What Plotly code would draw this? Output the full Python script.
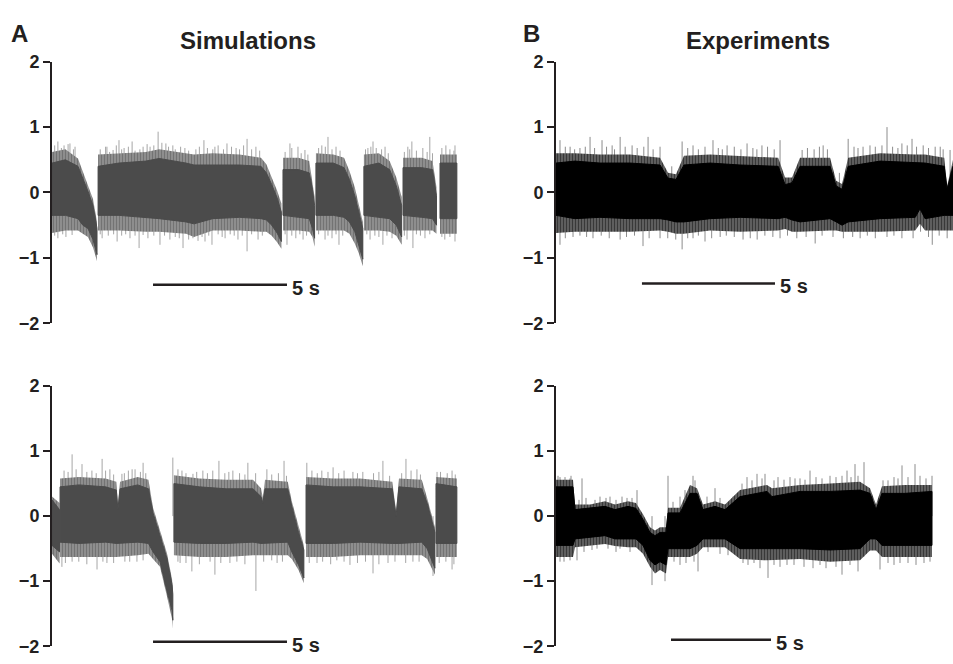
import plotly.graph_objects as go

# ---------------- data (time in s, value in arbitrary units) ----------------
# envelope rows: (t, core_hi, core_lo, fringe_hi, fringe_lo); None = break between segments
SIM_TOP_ENV = [
    (0.00, 0.45, -0.35, 0.62, -0.62), (0.50, 0.50, -0.35, 0.66, -0.58), (0.97, 0.40, -0.40, 0.52, -0.58),
    (1.15, 0.22, -0.50, 0.33, -0.63), (1.34, 0.02, -0.55, 0.13, -0.68), (1.53, -0.20, -0.72, -0.10, -0.84),
    (1.68, -0.55, -0.95, -0.45, -1.05), None,
    (1.72, 0.40, -0.35, 0.58, -0.58), (2.50, 0.45, -0.35, 0.60, -0.58), (3.50, 0.48, -0.38, 0.62, -0.60),
    (4.00, 0.52, -0.40, 0.66, -0.60), (5.00, 0.45, -0.45, 0.60, -0.63), (5.30, 0.42, -0.48, 0.58, -0.68),
    (6.00, 0.42, -0.40, 0.60, -0.58), (7.00, 0.42, -0.38, 0.58, -0.58), (7.80, 0.40, -0.40, 0.53, -0.60),
    (8.00, 0.30, -0.42, 0.43, -0.60), (8.20, 0.12, -0.50, 0.23, -0.66), (8.40, -0.08, -0.62, 0.03, -0.76),
    (8.56, -0.30, -0.75, -0.17, -0.86), None,
    (8.62, 0.35, -0.35, 0.53, -0.58), (9.20, 0.35, -0.38, 0.53, -0.58), (9.60, 0.30, -0.40, 0.48, -0.60),
    (9.72, 0.05, -0.55, 0.18, -0.68), (9.80, -0.20, -0.70, -0.07, -0.83), None,
    (9.85, 0.45, -0.35, 0.60, -0.58), (10.50, 0.45, -0.35, 0.58, -0.58), (10.90, 0.38, -0.38, 0.53, -0.58),
    (11.10, 0.20, -0.45, 0.33, -0.63), (11.30, -0.05, -0.60, 0.08, -0.78), (11.45, -0.30, -0.82, -0.17, -0.93),
    (11.60, -0.55, -1.02, -0.45, -1.13), None,
    (11.64, 0.40, -0.35, 0.58, -0.58), (12.20, 0.45, -0.38, 0.60, -0.58), (12.60, 0.35, -0.40, 0.48, -0.60),
    (12.85, 0.10, -0.50, 0.23, -0.66), (13.05, -0.20, -0.68, -0.07, -0.80), None,
    (13.10, 0.38, -0.35, 0.53, -0.58), (13.80, 0.38, -0.38, 0.53, -0.58), (14.20, 0.35, -0.40, 0.48, -0.58),
    (14.35, -0.05, -0.50, 0.08, -0.63), None,
    (14.48, 0.45, -0.40, 0.58, -0.63), (15.11, 0.45, -0.40, 0.58, -0.63),
]
SIM_TOP_UP = [(0.10, 0.72), (0.22, 0.78), (0.35, 0.68), (0.45, 0.72), (0.60, 0.74), (0.67, 0.75), (0.80, 0.66),
              (0.86, 0.70), (1.80, 0.66), (2.00, 0.70), (2.05, 0.70), (2.15, 0.62), (2.28, 0.65), (2.40, 0.72),
              (2.50, 0.80), (2.60, 0.66), (2.69, 0.68), (2.85, 0.70), (2.99, 0.78), (3.10, 0.64), (3.28, 0.66),
              (3.40, 0.70), (3.55, 0.74), (3.66, 0.70), (3.80, 0.72), (3.96, 0.93), (4.10, 0.76), (4.25, 0.75),
              (4.35, 0.70), (4.51, 0.72), (4.60, 0.66), (4.80, 0.70), (4.96, 0.68), (5.10, 0.64), (5.37, 0.66),
              (5.50, 0.70), (5.67, 0.80), (5.80, 0.68), (6.00, 0.66), (6.08, 0.70), (6.20, 0.72), (6.40, 0.66),
              (6.53, 0.75), (6.70, 0.70), (6.87, 0.68), (7.00, 0.66), (7.15, 0.72), (7.28, 0.82), (7.45, 0.66),
              (7.61, 0.70), (7.75, 0.64), (8.70, 0.62), (8.88, 0.75), (8.95, 0.68), (9.18, 0.70), (9.30, 0.60),
              (9.44, 0.65), (9.55, 0.58), (9.95, 0.68), (10.07, 0.72), (10.20, 0.70), (10.30, 0.85),
              (10.45, 0.66), (10.60, 0.70), (10.75, 0.64), (11.70, 0.66), (11.79, 0.68), (11.90, 0.70),
              (11.98, 0.78), (12.10, 0.68), (12.30, 0.66), (12.43, 0.70), (12.55, 0.60), (13.15, 0.62),
              (13.28, 0.70), (13.35, 0.66), (13.43, 0.78), (13.60, 0.64), (13.84, 0.68), (14.00, 0.62),
              (14.10, 0.85), (14.20, 0.60), (14.55, 0.68), (14.70, 0.72), (14.85, 0.66), (15.00, 0.64),
              (15.04, 0.72)]
SIM_TOP_DOWN = [(0.10, -0.66), (0.22, -0.70), (0.40, -0.64), (0.52, -0.68), (0.75, -0.65), (1.80, -0.64),
                (1.87, -0.70), (2.10, -0.66), (2.30, -0.64), (2.43, -0.75), (2.60, -0.66), (2.75, -0.64),
                (2.91, -0.70), (3.10, -0.66), (3.25, -0.85), (3.40, -0.65), (3.58, -0.70), (3.80, -0.66),
                (4.03, -0.80), (4.20, -0.66), (4.40, -0.72), (4.60, -0.68), (4.75, -0.70), (4.89, -0.85),
                (5.10, -0.72), (5.26, -0.70), (5.45, -0.74), (5.60, -0.68), (5.71, -0.75), (5.85, -0.66),
                (5.97, -0.80), (6.20, -0.64), (6.35, -0.68), (6.46, -0.70), (6.65, -0.64), (6.80, -0.66),
                (6.94, -0.72), (7.10, -0.66), (7.28, -0.90), (7.45, -0.64), (7.69, -0.72), (7.85, -0.66),
                (8.70, -0.64), (8.77, -0.80), (8.95, -0.66), (9.10, -0.70), (9.25, -0.64), (9.37, -0.72),
                (9.50, -0.66), (9.95, -0.64), (10.19, -0.72), (10.30, -0.66), (10.45, -0.70), (10.60, -0.64),
                (10.71, -0.80), (10.85, -0.66), (11.75, -0.64), (11.87, -0.72), (12.05, -0.66), (12.20, -0.68),
                (12.35, -0.80), (12.50, -0.66), (12.69, -0.70), (13.15, -0.66), (13.25, -0.72), (13.47, -0.85),
                (13.60, -0.64), (13.75, -0.66), (13.92, -0.70), (14.10, -0.64), (14.55, -0.68), (14.66, -0.72),
                (14.85, -0.68), (15.04, -0.75)]

SIM_BOT_ENV = [
    (0.00, 0.25, -0.45, 0.30, -0.58), (0.28, 0.10, -0.55, 0.20, -0.73), None,
    (0.30, 0.45, -0.40, 0.58, -0.63), (1.00, 0.48, -0.42, 0.60, -0.63), (2.00, 0.45, -0.40, 0.58, -0.63),
    (2.40, 0.40, -0.42, 0.53, -0.63), (2.46, 0.10, -0.42, 0.18, -0.63), (2.54, 0.42, -0.42, 0.53, -0.63),
    (3.20, 0.48, -0.40, 0.60, -0.60), (3.60, 0.42, -0.42, 0.56, -0.58), (3.77, 0.05, -0.55, 0.13, -0.66),
    (4.03, -0.30, -0.70, -0.22, -0.78), (4.29, -0.65, -1.15, -0.57, -1.23), (4.48, -1.05, -1.45, -0.97, -1.58),
    (4.51, -1.20, -1.60, -1.12, -1.73), None,
    (4.55, 0.50, -0.40, 0.63, -0.60), (5.50, 0.45, -0.42, 0.58, -0.63), (6.50, 0.42, -0.42, 0.56, -0.63),
    (7.50, 0.42, -0.40, 0.56, -0.60), (7.80, 0.30, -0.42, 0.43, -0.60), (7.87, 0.20, -0.42, 0.28, -0.60),
    (7.95, 0.42, -0.42, 0.56, -0.60), (8.80, 0.42, -0.40, 0.53, -0.60), (8.95, 0.15, -0.55, 0.23, -0.66),
    (9.20, -0.25, -0.75, -0.17, -0.83), (9.40, -0.52, -0.95, -0.45, -1.03), None,
    (9.48, 0.48, -0.42, 0.60, -0.63), (10.50, 0.45, -0.42, 0.58, -0.63), (11.50, 0.45, -0.40, 0.58, -0.60),
    (12.70, 0.42, -0.42, 0.53, -0.60), (12.84, 0.00, -0.42, 0.08, -0.60), (12.95, 0.45, -0.42, 0.58, -0.60),
    (13.80, 0.42, -0.40, 0.56, -0.60), (14.00, 0.20, -0.50, 0.28, -0.66), (14.29, -0.25, -0.80, -0.17, -0.90),
    None,
    (14.33, 0.50, -0.42, 0.60, -0.63), (15.11, 0.45, -0.42, 0.58, -0.63),
]
SIM_BOT_UP = [(0.45, 0.70), (0.60, 0.68), (0.75, 0.95), (0.90, 0.72), (1.12, 0.80), (1.30, 0.68), (1.49, 0.70),
              (1.65, 0.66), (1.87, 0.88), (2.00, 0.70), (2.16, 0.72), (2.30, 0.64), (2.61, 0.65), (2.70, 0.66),
              (2.85, 0.70), (2.99, 0.72), (3.10, 0.72), (3.30, 0.68), (3.40, 0.82), (3.50, 0.66), (4.51, 0.90),
              (4.70, 0.72), (4.85, 0.70), (5.00, 0.66), (5.26, 0.65), (5.40, 0.68), (5.63, 0.70), (5.80, 0.66),
              (6.00, 0.70), (6.23, 0.85), (6.45, 0.66), (6.60, 0.68), (6.75, 0.70), (7.00, 0.66), (7.20, 0.64),
              (7.31, 0.82), (7.60, 0.66), (8.02, 0.72), (8.20, 0.64), (8.45, 0.66), (8.66, 0.85), (8.75, 0.62),
              (9.51, 0.82), (9.70, 0.70), (9.90, 0.66), (10.07, 0.70), (10.30, 0.68), (10.49, 0.75),
              (10.70, 0.66), (10.90, 0.70), (11.23, 0.68), (11.40, 0.66), (11.60, 0.68), (12.00, 0.66),
              (12.20, 0.68), (12.35, 0.85), (12.60, 0.62), (13.05, 0.66), (13.21, 0.88), (13.40, 0.70),
              (13.62, 0.72), (13.75, 0.64), (14.37, 0.68), (14.50, 0.68), (14.75, 0.66), (14.93, 0.70),
              (15.05, 0.64)]
SIM_BOT_DOWN = [(0.37, -0.78), (0.50, -0.72), (0.75, -0.70), (1.00, -0.70), (1.30, -0.74), (1.68, -0.82),
                (1.90, -0.70), (2.05, -0.72), (2.30, -0.72), (2.72, -0.70), (2.90, -0.70), (3.17, -0.70),
                (3.40, -0.68), (4.70, -0.70), (4.78, -0.72), (5.00, -0.72), (5.22, -0.85), (5.50, -0.74),
                (5.90, -0.70), (6.08, -0.90), (6.30, -0.72), (6.64, -0.72), (6.90, -0.70), (7.20, -0.74),
                (7.61, -1.15), (7.90, -0.70), (8.20, -0.68), (8.40, -0.72), (8.60, -0.70), (9.60, -0.72),
                (9.89, -0.72), (10.10, -0.70), (10.40, -0.74), (10.63, -0.68), (10.90, -0.70), (11.12, -0.75),
                (11.40, -0.72), (11.70, -0.70), (11.98, -0.88), (12.20, -0.74), (12.54, -0.72), (12.80, -0.70),
                (13.20, -0.72), (13.47, -0.70), (13.70, -0.70), (14.22, -0.92), (14.45, -0.72), (14.70, -0.70),
                (14.93, -0.82), (15.00, -0.74)]

EXP_TOP_ENV = [
    (0.00, 0.45, -0.35, 0.60, -0.62), (0.71, 0.48, -0.40, 0.60, -0.60), (1.65, 0.45, -0.38, 0.58, -0.60),
    (2.78, 0.45, -0.40, 0.58, -0.60), (3.91, 0.42, -0.40, 0.53, -0.58), (4.21, 0.22, -0.42, 0.30, -0.60),
    (4.51, 0.20, -0.45, 0.28, -0.63), (4.81, 0.42, -0.45, 0.56, -0.63), (5.79, 0.45, -0.40, 0.58, -0.58),
    (6.92, 0.42, -0.38, 0.56, -0.60), (8.35, 0.40, -0.40, 0.53, -0.58), (8.61, 0.12, -0.38, 0.23, -0.56),
    (8.87, 0.15, -0.42, 0.23, -0.60), (9.17, 0.40, -0.45, 0.53, -0.60), (10.30, 0.40, -0.40, 0.53, -0.58),
    (10.53, 0.10, -0.45, 0.18, -0.58), (10.75, 0.05, -0.50, 0.13, -0.60), (10.98, 0.40, -0.45, 0.53, -0.60),
    (12.18, 0.48, -0.40, 0.60, -0.60), (13.50, 0.45, -0.38, 0.58, -0.58), (13.68, 0.45, -0.25, 0.58, -0.48),
    (13.87, 0.45, -0.40, 0.58, -0.58), (14.59, 0.40, -0.35, 0.53, -0.58), (14.70, 0.05, -0.35, 0.10, -0.58),
    (14.92, 0.40, -0.35, 0.50, -0.58),
]
EXP_TOP_UP = [(0.15, 0.80), (0.35, 0.70), (0.53, 0.70), (0.70, 0.66), (0.90, 0.68), (1.10, 0.70), (1.28, 0.85),
              (1.45, 0.68), (1.73, 0.80), (1.90, 0.70), (2.11, 0.72), (2.20, 0.66), (2.41, 0.85), (2.60, 0.70),
              (2.86, 0.72), (3.05, 0.68), (3.30, 0.70), (3.46, 0.85), (3.65, 0.66), (3.91, 0.70), (4.35, 0.40),
              (4.74, 0.78), (4.95, 0.68), (5.15, 0.72), (5.35, 0.66), (5.60, 0.70), (5.90, 0.80), (6.10, 0.68),
              (6.25, 0.66), (6.43, 0.72), (6.70, 0.70), (6.95, 0.66), (7.18, 0.75), (7.40, 0.68), (7.55, 0.66),
              (7.74, 0.72), (7.95, 0.70), (8.20, 0.66), (8.42, 0.80), (9.00, 0.35), (9.25, 0.65), (9.45, 0.68),
              (9.70, 0.66), (9.90, 0.70), (10.04, 0.72), (10.20, 0.66), (10.65, 0.30), (10.98, 0.82),
              (11.20, 0.70), (11.35, 0.68), (11.54, 0.70), (11.80, 0.72), (12.00, 0.70), (12.25, 0.72),
              (12.44, 1.00), (12.65, 0.70), (12.85, 0.68), (13.00, 0.75), (13.20, 0.72), (13.38, 0.82),
              (13.55, 0.70), (13.80, 0.72), (14.00, 0.68), (14.25, 0.70), (14.44, 0.70), (14.55, 0.66),
              (14.81, 0.65)]
EXP_TOP_DOWN = [(0.15, -0.80), (0.35, -0.70), (0.64, -0.68), (0.90, -0.66), (1.15, -0.68), (1.39, -0.70),
                (1.70, -0.66), (2.00, -0.70), (2.41, -0.72), (2.65, -0.68), (2.95, -0.66), (3.27, -0.82),
                (3.50, -0.70), (3.91, -0.70), (4.20, -0.70), (4.50, -0.72), (4.74, -0.87), (4.95, -0.70),
                (5.15, -0.70), (5.35, -0.66), (5.60, -0.75), (5.85, -0.70), (6.17, -0.68), (6.40, -0.66),
                (6.70, -0.68), (7.03, -0.72), (7.30, -0.70), (7.56, -0.72), (7.85, -0.66), (8.15, -0.68),
                (8.42, -0.70), (8.70, -0.66), (9.05, -0.70), (9.40, -0.68), (9.74, -0.78), (10.00, -0.66),
                (10.41, -0.68), (10.80, -0.70), (11.15, -0.68), (11.43, -0.70), (11.70, -0.66), (12.00, -0.70),
                (12.44, -0.68), (12.70, -0.66), (13.00, -0.70), (13.42, -0.70), (13.70, -0.60), (14.00, -0.68),
                (14.14, -0.80), (14.40, -0.66), (14.70, -0.70)]

EXP_BOT_ENV = [
    (0.00, 0.45, -0.45, 0.56, -0.63), (0.85, 0.45, -0.45, 0.56, -0.63), (0.95, 0.10, -0.35, 0.18, -0.48),
    (1.70, 0.12, -0.32, 0.18, -0.46), (2.45, 0.15, -0.30, 0.23, -0.43), (2.95, 0.10, -0.35, 0.18, -0.46),
    (3.60, 0.15, -0.35, 0.23, -0.48), (4.00, 0.12, -0.35, 0.20, -0.48), (4.35, -0.05, -0.45, 0.03, -0.58),
    (4.70, -0.25, -0.68, -0.17, -0.78), (4.95, -0.30, -0.75, -0.22, -0.88), (5.20, -0.25, -0.70, -0.17, -0.83),
    (5.50, -0.25, -0.75, -0.17, -0.88), (5.60, 0.05, -0.50, 0.13, -0.63), (6.20, 0.05, -0.50, 0.13, -0.63),
    (6.70, 0.35, -0.50, 0.48, -0.63), (7.05, 0.35, -0.45, 0.43, -0.58), (7.35, 0.10, -0.35, 0.18, -0.48),
    (7.95, 0.15, -0.35, 0.23, -0.48), (8.45, 0.10, -0.35, 0.18, -0.48), (9.20, 0.30, -0.50, 0.40, -0.66),
    (10.55, 0.38, -0.50, 0.48, -0.68), (10.80, 0.30, -0.50, 0.43, -0.68), (12.20, 0.38, -0.50, 0.48, -0.66),
    (13.70, 0.38, -0.52, 0.50, -0.70), (15.20, 0.40, -0.50, 0.53, -0.68), (15.70, 0.35, -0.35, 0.43, -0.53),
    (16.00, 0.10, -0.35, 0.18, -0.53), (16.30, 0.35, -0.45, 0.46, -0.63), (17.45, 0.35, -0.45, 0.48, -0.63),
    (18.80, 0.38, -0.45, 0.48, -0.63),
]
EXP_BOT_UP = [(0.10, 0.62), (0.20, 0.60), (0.45, 0.60), (0.70, 0.58), (0.75, 0.62), (1.15, 0.25), (1.30, 0.58),
              (1.50, 0.28), (1.95, 0.25), (2.20, 0.30), (2.50, 0.28), (2.70, 0.30), (3.00, 0.25), (3.30, 0.30),
              (3.55, 0.28), (3.80, 0.28), (4.05, 0.40), (5.60, 0.62), (5.85, 0.22), (6.20, 0.30), (6.45, 0.40),
              (6.85, 0.62), (6.95, 0.55), (7.55, 0.30), (7.95, 0.43), (8.20, 0.28), (8.85, 0.30), (9.30, 0.50),
              (9.55, 0.60), (9.80, 0.55), (10.05, 0.65), (10.30, 0.58), (10.45, 0.65), (10.90, 0.55),
              (11.10, 0.60), (11.40, 0.56), (11.70, 0.60), (11.95, 0.58), (12.20, 0.58), (12.45, 0.56),
              (12.70, 0.70), (13.00, 0.60), (13.30, 0.58), (13.70, 0.62), (14.00, 0.60), (14.30, 0.62),
              (14.55, 0.70), (14.75, 0.60), (14.95, 0.80), (15.10, 0.62), (15.40, 0.83), (16.35, 0.55),
              (16.60, 0.55), (16.90, 0.60), (17.10, 0.58), (17.30, 0.78), (17.60, 0.60), (17.95, 0.80),
              (18.20, 0.62), (18.50, 0.58), (18.80, 0.62)]
EXP_BOT_DOWN = [(0.20, -0.70), (0.40, -0.70), (0.70, -0.68), (1.05, -0.68), (1.40, -0.55), (1.80, -0.52),
                (2.05, -0.50), (2.60, -0.50), (3.00, -0.55), (3.20, -0.50), (3.70, -0.55), (4.80, -1.06),
                (5.45, -1.00), (5.90, -0.70), (6.20, -0.75), (6.50, -0.72), (6.90, -0.70), (7.10, -0.85),
                (7.60, -0.55), (8.20, -0.58), (8.60, -0.60), (9.35, -0.72), (9.60, -0.75), (9.90, -0.72),
                (10.20, -0.80), (10.60, -0.95), (10.90, -0.75), (11.20, -0.78), (11.55, -0.75), (11.90, -0.75),
                (12.40, -0.78), (12.85, -0.80), (13.20, -0.75), (13.50, -0.80), (14.00, -0.78), (14.30, -0.90),
                (14.70, -0.75), (15.10, -0.85), (15.40, -0.62), (16.20, -0.82), (16.60, -0.72), (16.90, -0.75),
                (17.20, -0.72), (17.60, -0.72), (18.00, -0.75), (18.40, -0.72), (18.70, -0.70)]

# scale bars: (t_start, length in s, y level)
SCALE_SIM_TOP = (3.77, 5.0, -1.41)
SCALE_SIM_BOT = (3.77, 5.0, -1.93)
SCALE_EXP_TOP = (3.23, 5.0, -1.39)
SCALE_EXP_BOT = (5.75, 5.0, -1.90)
SCALE_LABEL = "5 s"

Y_TICKS = [-2, -1, 0, 1, 2]
TITLES = ["Simulations", "Experiments"]
PANEL_LETTERS = ["A", "B"]

# ---------------- figure ----------------
W, H = 953, 664
INK = "#231f20"
FONT = "Liberation Sans"


def band_path(env, hi_i, lo_i):
    xs, ys = [], []
    seg = []
    for row in env + [None]:
        if row is None:
            if seg:
                t = [r[0] for r in seg]
                hi = [r[hi_i] for r in seg]
                lo = [r[lo_i] for r in seg]
                xs += t + t[::-1] + [t[0], None]
                ys += hi + lo[::-1] + [hi[0], None]
            seg = []
        else:
            seg.append(row)
    return xs, ys


def spike_path(spikes, base):
    xs, ys = [], []
    for t, v in spikes:
        xs += [t, t, None]
        ys += [base, v, None]
    return xs, ys


fig = go.Figure()

panels = [
    # env, up, down, scale, axis id, colors(core, fringe bg, spike)
    (SIM_TOP_ENV, SIM_TOP_UP, SIM_TOP_DOWN, SCALE_SIM_TOP, 1, ("#4b4b4b", "#9a9a9a", "#a6a6a6")),
    (EXP_TOP_ENV, EXP_TOP_UP, EXP_TOP_DOWN, SCALE_EXP_TOP, 2, ("#000000", "#707070", "#8c8c8c")),
    (SIM_BOT_ENV, SIM_BOT_UP, SIM_BOT_DOWN, SCALE_SIM_BOT, 3, ("#4b4b4b", "#9a9a9a", "#a6a6a6")),
    (EXP_BOT_ENV, EXP_BOT_UP, EXP_BOT_DOWN, SCALE_EXP_BOT, 4, ("#000000", "#707070", "#8c8c8c")),
]

annotations = []
for env, up, down, scale, k, (c_core, c_fr, c_sp) in panels:
    xa = "x" if k == 1 else f"x{k}"
    ya = "y" if k == 1 else f"y{k}"
    sx, sy = spike_path(up, 0.0)
    dx, dy = spike_path(down, 0.0)
    fig.add_trace(go.Scatter(x=sx + dx, y=sy + dy, mode="lines", line=dict(color=c_sp, width=1),
                             xaxis=xa, yaxis=ya, hoverinfo="skip"))
    fx, fy = band_path(env, 3, 4)
    fig.add_trace(go.Scatter(x=fx, y=fy, mode="lines", fill="toself", fillcolor=c_fr,
                             fillpattern=dict(shape="|", fgcolor=c_core, bgcolor=c_fr, size=3, solidity=0.55),
                             line=dict(width=0), xaxis=xa, yaxis=ya, hoverinfo="skip"))
    cx, cy = band_path(env, 1, 2)
    fig.add_trace(go.Scatter(x=cx, y=cy, mode="lines", fill="toself", fillcolor=c_core,
                             line=dict(color=c_core, width=1), xaxis=xa, yaxis=ya, hoverinfo="skip"))
    t0, length, yb = scale
    fig.add_trace(go.Scatter(x=[t0, t0 + length], y=[yb, yb], mode="lines",
                             line=dict(color=INK, width=2.5), xaxis=xa, yaxis=ya, hoverinfo="skip"))
    annotations.append(dict(x=t0 + length, y=yb, xref=xa, yref=ya, text=SCALE_LABEL, showarrow=False,
                            xanchor="left", yanchor="middle", xshift=3, yshift=-3,
                            font=dict(family=FONT, size=20, color=INK, weight="bold")))

x_dom_a = [52 / W, 470 / W]
x_dom_b = [556 / W, 1.0]
y_dom_top = [1 - 323 / H, 1 - 53.3 / H]
y_dom_bot = [1 - 656 / H, 1 - 387.7 / H]

yaxis_style = dict(range=[-2, 2], tickvals=Y_TICKS, ticks="outside", ticklen=7, tickwidth=2,
                   tickcolor=INK, showline=True, linewidth=2, linecolor=INK, showgrid=False,
                   zeroline=False, tickfont=dict(family=FONT, size=18, color=INK, weight="bold"),
                   fixedrange=True)
xaxis_style = dict(visible=False, showgrid=False, zeroline=False, fixedrange=True)

fig.update_layout(
    width=W, height=H, margin=dict(l=0, r=0, t=0, b=0),
    paper_bgcolor="white", plot_bgcolor="white", showlegend=False,
    xaxis=dict(domain=x_dom_a, range=[0, 15.6], anchor="y", **xaxis_style),
    yaxis=dict(domain=y_dom_top, anchor="x", **yaxis_style),
    xaxis2=dict(domain=x_dom_b, range=[0, 14.92], anchor="y2", **xaxis_style),
    yaxis2=dict(domain=y_dom_top, anchor="x2", **yaxis_style),
    xaxis3=dict(domain=x_dom_a, range=[0, 15.6], anchor="y3", **xaxis_style),
    yaxis3=dict(domain=y_dom_bot, anchor="x3", **yaxis_style),
    xaxis4=dict(domain=x_dom_b, range=[0, 19.85], anchor="y4", **xaxis_style),
    yaxis4=dict(domain=y_dom_bot, anchor="x4", **yaxis_style),
)

for txt, px in zip(TITLES, [248, 758]):
    annotations.append(dict(x=px / W, y=1 - 31 / H, xref="paper", yref="paper", text=txt, showarrow=False,
                            xanchor="center", yanchor="middle",
                            font=dict(family=FONT, size=24, color=INK, weight="bold")))
for txt, px in zip(PANEL_LETTERS, [19, 531]):
    annotations.append(dict(x=px / W, y=1 - 24 / H, xref="paper", yref="paper", text=txt, showarrow=False,
                            xanchor="center", yanchor="middle",
                            font=dict(family=FONT, size=24, color=INK, weight="bold")))
fig.update_layout(annotations=annotations)

fig.write_html("out.html")
